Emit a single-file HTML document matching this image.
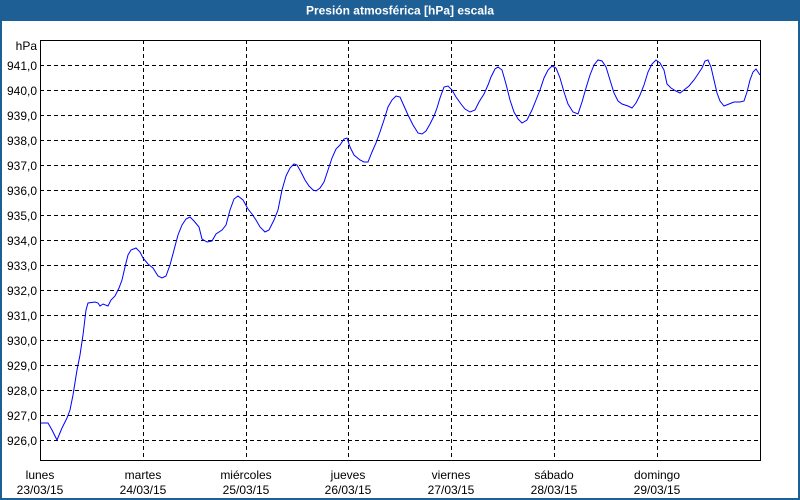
<!DOCTYPE html>
<html><head><meta charset="utf-8"><style>
html,body{margin:0;padding:0;width:800px;height:500px;overflow:hidden;background:#fff}
</style></head><body>
<svg width="800" height="500" viewBox="0 0 800 500" xmlns="http://www.w3.org/2000/svg" font-family="Liberation Sans, DejaVu Sans, sans-serif" font-size="11">
<rect x="0" y="0" width="800" height="500" fill="#1e5f96"/>
<rect x="2" y="21" width="796" height="477" fill="#fff"/>
<text x="400" y="14.5" fill="#fff" font-weight="bold" font-size="12" text-anchor="middle">Presión atmosférica [hPa] escala</text>
<g stroke="#000" stroke-width="1" stroke-dasharray="4,3" shape-rendering="crispEdges">
<line x1="40" y1="65.5" x2="760" y2="65.5"/><line x1="40" y1="90.5" x2="760" y2="90.5"/>
<line x1="40" y1="115.5" x2="760" y2="115.5"/><line x1="40" y1="140.5" x2="760" y2="140.5"/>
<line x1="40" y1="165.5" x2="760" y2="165.5"/><line x1="40" y1="190.5" x2="760" y2="190.5"/>
<line x1="40" y1="215.5" x2="760" y2="215.5"/><line x1="40" y1="240.5" x2="760" y2="240.5"/>
<line x1="40" y1="265.5" x2="760" y2="265.5"/><line x1="40" y1="290.5" x2="760" y2="290.5"/>
<line x1="40" y1="315.5" x2="760" y2="315.5"/><line x1="40" y1="340.5" x2="760" y2="340.5"/>
<line x1="40" y1="365.5" x2="760" y2="365.5"/><line x1="40" y1="390.5" x2="760" y2="390.5"/>
<line x1="40" y1="415.5" x2="760" y2="415.5"/><line x1="40" y1="440.5" x2="760" y2="440.5"/>
<line x1="143.5" y1="40" x2="143.5" y2="460"/><line x1="246.5" y1="40" x2="246.5" y2="460"/>
<line x1="348.5" y1="40" x2="348.5" y2="460"/><line x1="451.5" y1="40" x2="451.5" y2="460"/>
<line x1="554.5" y1="40" x2="554.5" y2="460"/><line x1="657.5" y1="40" x2="657.5" y2="460"/>
</g>
<rect x="40.5" y="40.5" width="720" height="420" fill="none" stroke="#000" shape-rendering="crispEdges"/>
<g fill="#000" text-anchor="end" font-size="12">
<text x="37" y="50">hPa</text>
<text x="37" y="70">941,0</text><text x="37" y="95">940,0</text><text x="37" y="120">939,0</text>
<text x="37" y="145">938,0</text><text x="37" y="170">937,0</text><text x="37" y="195">936,0</text>
<text x="37" y="220">935,0</text><text x="37" y="245">934,0</text><text x="37" y="270">933,0</text>
<text x="37" y="295">932,0</text><text x="37" y="320">931,0</text><text x="37" y="345">930,0</text>
<text x="37" y="370">929,0</text><text x="37" y="395">928,0</text><text x="37" y="420">927,0</text>
<text x="37" y="445">926,0</text>
</g>
<g fill="#000" text-anchor="middle" font-size="12">
<text x="40" y="479">lunes</text><text x="40" y="494">23/03/15</text>
<text x="143" y="479">martes</text><text x="143" y="494">24/03/15</text>
<text x="246" y="479">miércoles</text><text x="246" y="494">25/03/15</text>
<text x="348" y="479">jueves</text><text x="348" y="494">26/03/15</text>
<text x="451" y="479">viernes</text><text x="451" y="494">27/03/15</text>
<text x="554" y="479">sábado</text><text x="554" y="494">28/03/15</text>
<text x="657" y="479">domingo</text><text x="657" y="494">29/03/15</text>
</g>
<polyline fill="none" stroke="#0000ff" stroke-width="1" points="41,423 48,423 52,430 57,440 62,428 67,418 70,410 73,395 77,370 80,355 83,335 86,310 88,303 95,302 98,303 100,306 103,304 108,306 111,300 115,296 119,288 122,280 125,267 128,255 131,250 136,248 140,252 143,258 148,264 153,268 158,276 162,278 166,276 170,265 174,250 178,235 182,225 186,219 190,217 194,221 199,227 202,239 207,242 212,241 216,234 222,230 226,225 230,210 234,199 238,196 243,200 248,209 252,214 256,220 260,227 265,232 269,230 274,220 278,210 282,190 286,176 290,168 294,164 297,165 301,172 305,180 309,186 313,190 316,191 320,188 324,182 328,170 332,158 336,149 340,145 344,139 347,138 350,147 354,155 360,160 364,162 368,162 372,152 376,143 380,132 384,120 388,107 392,100 396,96 400,97 404,106 408,115 413,125 418,133 422,134 426,131 430,124 434,116 437,108 440,98 444,87 448,86 452,90 456,97 461,104 465,109 470,112 475,110 479,102 484,94 488,85 491,77 495,69 498,67 502,70 506,84 510,100 514,112 518,119 522,123 527,120 532,110 536,100 540,90 544,78 548,70 552,66 556,68 560,78 564,92 568,104 573,112 578,114 582,102 586,88 590,75 594,65 598,60 602,61 606,67 610,80 614,93 618,101 622,104 628,106 632,108 636,103 640,95 644,85 648,72 652,64 656,60 660,63 664,70 667,84 671,88 676,91 680,93 684,90 689,86 694,80 698,74 702,68 705,61 708,60 711,67 714,80 717,93 720,101 724,106 729,104 734,102 740,102 744,101 747,92 750,80 753,72 756,69 760,75"/>
</svg>
</body></html>
